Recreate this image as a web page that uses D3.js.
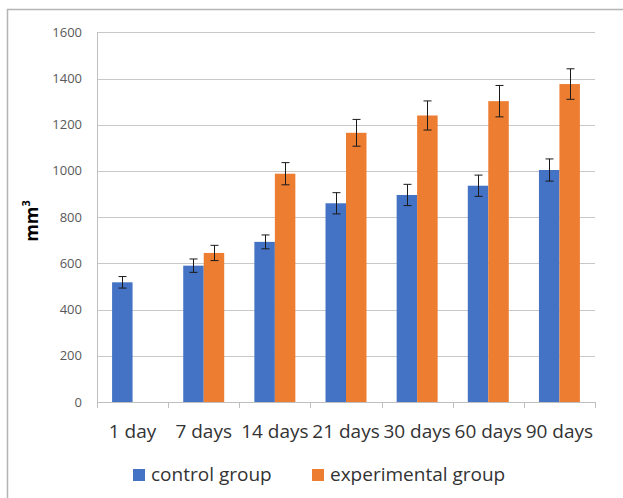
<!DOCTYPE html>
<html>
<head>
<meta charset="utf-8">
<script src="https://cdn.jsdelivr.net/npm/d3@7/dist/d3.min.js"></script>
<style>
  html, body { margin: 0; padding: 0; background: #fff; }
  svg { display: block; }
</style>
</head>
<body>
<svg id="chart" width="623" height="498"></svg>
<script>
const categories = ["1 day", "7 days", "14 days", "21 days", "30 days", "60 days", "90 days"];
const seriesNames = ["control group", "experimental group"];
const controlValues = [518, 590, 693, 860, 896, 936, 1004];
const controlErrors = [25, 29, 30, 46, 46, 46, 48];
const experimentalValues = [null, 645, 988, 1165, 1240, 1302, 1376];
const experimentalErrors = [null, 33, 48, 58, 63, 68, 66];
const yTicks = [0, 200, 400, 600, 800, 1000, 1200, 1400, 1600];
const colors = ["#4472C4", "#ED7D31"];

const svg = d3.select("#chart");
const plotLeft = 97, plotRight = 595, plotTop = 32.3, plotBottom = 402;

// outer frame
svg.append("line").attr("x1", 7).attr("x2", 623).attr("y1", 9.5).attr("y2", 9.5)
  .attr("stroke", "#b4b4b4").attr("stroke-width", 1.5);
svg.append("line").attr("x1", 7.5).attr("x2", 7.5).attr("y1", 9).attr("y2", 498)
  .attr("stroke", "#b4b4b4").attr("stroke-width", 1.5);

const y = d3.scaleLinear().domain([0, 1600]).range([plotBottom, plotTop]);
const x = d3.scaleBand().domain(categories).range([plotLeft, plotRight]).paddingInner(0).paddingOuter(0);
const bw = x.bandwidth();
const xs = d3.scaleBand().domain(seriesNames).range([bw * 0.212, bw * 0.788]).padding(0);

// gridlines
svg.append("g").selectAll("line").data(yTicks.filter(d => d > 0)).join("line")
  .attr("x1", plotLeft).attr("x2", plotRight)
  .attr("y1", d => Math.round(y(d)) + 0.5).attr("y2", d => Math.round(y(d)) + 0.5)
  .attr("stroke", "#c8c8c8").attr("stroke-width", 1);

// y tick labels
svg.append("g").selectAll("text").data(yTicks).join("text")
  .attr("x", 82).attr("y", d => y(d)).attr("dy", "0.35em")
  .attr("text-anchor", "end")
  .attr("font-family", "'Open Sans', sans-serif").attr("font-size", 13)
  .attr("fill", "#595959")
  .text(d => d);

// bars
const data = [];
categories.forEach((c, i) => {
  data.push({ cat: c, s: seriesNames[0], v: controlValues[i], e: controlErrors[i], col: colors[0] });
  if (experimentalValues[i] != null)
    data.push({ cat: c, s: seriesNames[1], v: experimentalValues[i], e: experimentalErrors[i], col: colors[1] });
});

svg.append("g").selectAll("rect").data(data).join("rect")
  .attr("x", d => x(d.cat) + xs(d.s))
  .attr("width", xs.bandwidth())
  .attr("y", d => y(d.v))
  .attr("height", d => y(0) - y(d.v))
  .attr("fill", d => d.col);

// error bars
const eg = svg.append("g").attr("stroke", "#1a1a1a").attr("stroke-width", 1);
data.forEach(d => {
  const cx = Math.round(x(d.cat) + xs(d.s) + xs.bandwidth() / 2) + 0.5;
  const y1 = y(d.v + d.e), y2 = y(d.v - d.e);
  eg.append("line").attr("x1", cx).attr("x2", cx).attr("y1", y1).attr("y2", y2);
  eg.append("line").attr("x1", cx - 4).attr("x2", cx + 4).attr("y1", y1).attr("y2", y1);
  eg.append("line").attr("x1", cx - 4).attr("x2", cx + 4).attr("y1", y2).attr("y2", y2);
});

// axes lines
svg.append("line").attr("x1", plotLeft + 0.5).attr("x2", plotLeft + 0.5).attr("y1", plotTop).attr("y2", plotBottom + 6)
  .attr("stroke", "#bfbfbf");
svg.append("line").attr("x1", plotLeft).attr("x2", plotRight).attr("y1", plotBottom + 0.5).attr("y2", plotBottom + 0.5)
  .attr("stroke", "#bfbfbf");
const bounds = categories.map(c => x(c)).concat([plotRight]);
svg.append("g").selectAll("line").data(bounds).join("line")
  .attr("x1", d => Math.round(d) + 0.5).attr("x2", d => Math.round(d) + 0.5)
  .attr("y1", plotBottom).attr("y2", plotBottom + 6)
  .attr("stroke", "#bfbfbf");

// x labels
svg.append("g").selectAll("text").data(categories).join("text")
  .attr("x", d => x(d) + bw / 2).attr("y", 438)
  .attr("text-anchor", "middle")
  .attr("font-family", "'Open Sans', sans-serif").attr("font-size", 19)
  .attr("fill", "#333333")
  .text(d => d);

// y axis title
const yt = svg.append("text")
  .attr("transform", "translate(38,221) rotate(-90)")
  .attr("text-anchor", "middle")
  .attr("font-family", "'Open Sans', sans-serif").attr("font-size", 18).attr("font-weight", "bold")
  .attr("fill", "#000");
yt.append("tspan").text("mm");
yt.append("tspan").attr("font-size", 11).attr("dy", -8).text("3");

// legend
const legendX = [133, 312];
const lg = svg.append("g");
seriesNames.forEach((n, i) => {
  lg.append("rect").attr("x", legendX[i]).attr("y", 469).attr("width", 12).attr("height", 12).attr("fill", colors[i]);
  lg.append("text").attr("x", legendX[i] + 18).attr("y", 481)
    .attr("font-family", "'Open Sans', sans-serif").attr("font-size", 19)
    .attr("fill", "#333333").text(n);
});
</script>
</body>
</html>
